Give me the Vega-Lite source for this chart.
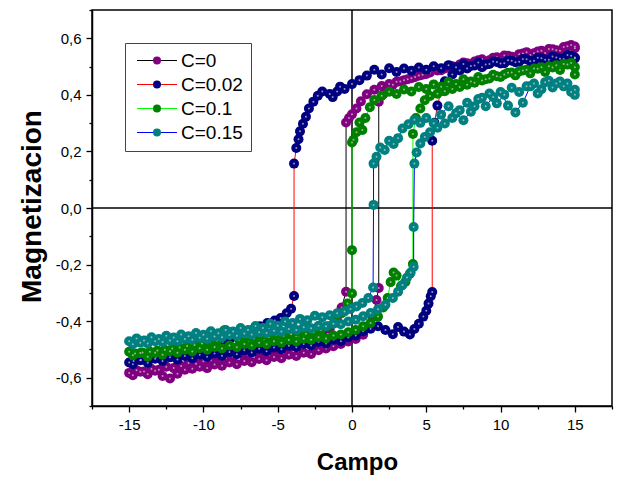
{
"$schema":"https://vega.github.io/schema/vega-lite/v6.json",
"width":520,"height":396,
"autosize":{"type":"none"},
"padding":{"left":92,"top":10,"right":13,"bottom":71},
"background":"white",
"config":{
 "view":{"stroke":"black","strokeWidth":1.5},
 "axis":{"grid":false,"domainColor":"black","domainWidth":1.5,"tickColor":"black","tickWidth":1.3,"labelFont":"Liberation Sans","labelFontSize":15,"labelColor":"black","titleFont":"Liberation Sans","titleFontWeight":"bold","titleColor":"black","labelOverlap":false,"labelFlush":false},
 "legend":{"labelFont":"Liberation Sans","labelColor":"black"}
},
"resolve":{"axis":{"x":"independent","y":"independent"}},
"datasets":{"d":[
{"s":"C=0","x":15,"y":0.565},{"s":"C=0","x":14.5,"y":0.572},{"s":"C=0","x":14,"y":0.556},{"s":"C=0","x":13.5,"y":0.561},{"s":"C=0","x":13,"y":0.548},{"s":"C=0","x":12.5,"y":0.553},{"s":"C=0","x":12,"y":0.541},{"s":"C=0","x":11.5,"y":0.546},{"s":"C=0","x":11,"y":0.532},{"s":"C=0","x":10.5,"y":0.538},{"s":"C=0","x":10,"y":0.524},{"s":"C=0","x":9.5,"y":0.531},{"s":"C=0","x":9,"y":0.517},{"s":"C=0","x":8.5,"y":0.522},{"s":"C=0","x":8,"y":0.508},{"s":"C=0","x":7.5,"y":0.514},{"s":"C=0","x":7,"y":0.498},{"s":"C=0","x":6.5,"y":0.503},{"s":"C=0","x":6,"y":0.487},{"s":"C=0","x":5.5,"y":0.491},{"s":"C=0","x":5,"y":0.474},{"s":"C=0","x":4.5,"y":0.468},{"s":"C=0","x":4,"y":0.459},{"s":"C=0","x":3.5,"y":0.452},{"s":"C=0","x":3,"y":0.446},{"s":"C=0","x":2.5,"y":0.438},{"s":"C=0","x":2,"y":0.431},{"s":"C=0","x":1.5,"y":0.418},{"s":"C=0","x":1,"y":0.402},{"s":"C=0","x":0.6,"y":0.377},{"s":"C=0","x":0.3,"y":0.352},{"s":"C=0","x":0,"y":0.331},{"s":"C=0","x":-0.2,"y":0.318},{"s":"C=0","x":-0.4,"y":0.302},{"s":"C=0","x":-0.4,"y":-0.296},{"s":"C=0","x":-0.7,"y":-0.352},{"s":"C=0","x":-1,"y":-0.398},{"s":"C=0","x":-1.5,"y":-0.428},{"s":"C=0","x":-2,"y":-0.447},{"s":"C=0","x":-2.5,"y":-0.461},{"s":"C=0","x":-3,"y":-0.472},{"s":"C=0","x":-3.5,"y":-0.478},{"s":"C=0","x":-4,"y":-0.489},{"s":"C=0","x":-4.5,"y":-0.494},{"s":"C=0","x":-5,"y":-0.502},{"s":"C=0","x":-5.5,"y":-0.498},{"s":"C=0","x":-6,"y":-0.511},{"s":"C=0","x":-6.5,"y":-0.507},{"s":"C=0","x":-7,"y":-0.519},{"s":"C=0","x":-7.5,"y":-0.514},{"s":"C=0","x":-8,"y":-0.526},{"s":"C=0","x":-8.5,"y":-0.531},{"s":"C=0","x":-9,"y":-0.527},{"s":"C=0","x":-9.5,"y":-0.538},{"s":"C=0","x":-10,"y":-0.542},{"s":"C=0","x":-10.5,"y":-0.551},{"s":"C=0","x":-11,"y":-0.548},{"s":"C=0","x":-11.5,"y":-0.559},{"s":"C=0","x":-12,"y":-0.566},{"s":"C=0","x":-12.5,"y":-0.561},{"s":"C=0","x":-13,"y":-0.572},{"s":"C=0","x":-13.5,"y":-0.569},{"s":"C=0","x":-14,"y":-0.578},{"s":"C=0","x":-14.5,"y":-0.574},{"s":"C=0","x":-15,"y":-0.583},
{"s":"C=0","x":-14.75,"y":-0.591},{"s":"C=0","x":-14.25,"y":-0.579},{"s":"C=0","x":-13.75,"y":-0.588},{"s":"C=0","x":-13.25,"y":-0.575},{"s":"C=0","x":-12.75,"y":-0.594},{"s":"C=0","x":-12.25,"y":-0.603},{"s":"C=0","x":-11.75,"y":-0.586},{"s":"C=0","x":-11.25,"y":-0.572},{"s":"C=0","x":-10.75,"y":-0.568},{"s":"C=0","x":-10.25,"y":-0.561},{"s":"C=0","x":-9.75,"y":-0.566},{"s":"C=0","x":-9.25,"y":-0.553},{"s":"C=0","x":-8.75,"y":-0.558},{"s":"C=0","x":-8.25,"y":-0.546},{"s":"C=0","x":-7.75,"y":-0.552},{"s":"C=0","x":-7.25,"y":-0.541},{"s":"C=0","x":-6.75,"y":-0.545},{"s":"C=0","x":-6.25,"y":-0.534},{"s":"C=0","x":-5.75,"y":-0.538},{"s":"C=0","x":-5.25,"y":-0.527},{"s":"C=0","x":-4.75,"y":-0.531},{"s":"C=0","x":-4.25,"y":-0.519},{"s":"C=0","x":-3.75,"y":-0.523},{"s":"C=0","x":-3.25,"y":-0.512},{"s":"C=0","x":-2.75,"y":-0.516},{"s":"C=0","x":-2.25,"y":-0.503},{"s":"C=0","x":-1.75,"y":-0.497},{"s":"C=0","x":-1.25,"y":-0.489},{"s":"C=0","x":-0.75,"y":-0.481},{"s":"C=0","x":-0.25,"y":-0.472},{"s":"C=0","x":0.25,"y":-0.463},{"s":"C=0","x":0.75,"y":-0.448},{"s":"C=0","x":1.1,"y":-0.421},{"s":"C=0","x":1.4,"y":-0.384},{"s":"C=0","x":1.65,"y":-0.325},{"s":"C=0","x":1.8,"y":-0.283},{"s":"C=0","x":1.8,"y":0.376},{"s":"C=0","x":2.1,"y":0.402},{"s":"C=0","x":2.5,"y":0.421},{"s":"C=0","x":2.75,"y":0.436},{"s":"C=0","x":3.25,"y":0.447},{"s":"C=0","x":3.75,"y":0.455},{"s":"C=0","x":4.25,"y":0.463},{"s":"C=0","x":4.75,"y":0.471},{"s":"C=0","x":5.25,"y":0.479},{"s":"C=0","x":5.75,"y":0.486},{"s":"C=0","x":6.25,"y":0.493},{"s":"C=0","x":6.75,"y":0.501},{"s":"C=0","x":7.25,"y":0.507},{"s":"C=0","x":7.75,"y":0.512},{"s":"C=0","x":8.25,"y":0.518},{"s":"C=0","x":8.75,"y":0.526},{"s":"C=0","x":9.25,"y":0.522},{"s":"C=0","x":9.75,"y":0.533},{"s":"C=0","x":10.25,"y":0.539},{"s":"C=0","x":10.75,"y":0.535},{"s":"C=0","x":11.25,"y":0.544},{"s":"C=0","x":11.75,"y":0.551},{"s":"C=0","x":12.25,"y":0.547},{"s":"C=0","x":12.75,"y":0.556},{"s":"C=0","x":13.25,"y":0.562},{"s":"C=0","x":13.75,"y":0.558},{"s":"C=0","x":14.25,"y":0.569},{"s":"C=0","x":14.75,"y":0.576},{"s":"C=0","x":15,"y":0.571},
{"s":"C=0.02","x":15,"y":0.532},{"s":"C=0.02","x":14.5,"y":0.541},{"s":"C=0.02","x":14,"y":0.528},{"s":"C=0.02","x":13.5,"y":0.536},{"s":"C=0.02","x":13,"y":0.524},{"s":"C=0.02","x":12.5,"y":0.531},{"s":"C=0.02","x":12,"y":0.519},{"s":"C=0.02","x":11.5,"y":0.527},{"s":"C=0.02","x":11,"y":0.515},{"s":"C=0.02","x":10.5,"y":0.522},{"s":"C=0.02","x":10,"y":0.511},{"s":"C=0.02","x":9.5,"y":0.518},{"s":"C=0.02","x":9,"y":0.507},{"s":"C=0.02","x":8.5,"y":0.514},{"s":"C=0.02","x":8,"y":0.502},{"s":"C=0.02","x":7.5,"y":0.509},{"s":"C=0.02","x":7,"y":0.498},{"s":"C=0.02","x":6.5,"y":0.505},{"s":"C=0.02","x":6,"y":0.494},{"s":"C=0.02","x":5.5,"y":0.501},{"s":"C=0.02","x":5,"y":0.489},{"s":"C=0.02","x":4.5,"y":0.497},{"s":"C=0.02","x":4,"y":0.485},{"s":"C=0.02","x":3.5,"y":0.493},{"s":"C=0.02","x":3,"y":0.481},{"s":"C=0.02","x":2.5,"y":0.494},{"s":"C=0.02","x":2,"y":0.472},{"s":"C=0.02","x":1.5,"y":0.489},{"s":"C=0.02","x":1,"y":0.468},{"s":"C=0.02","x":0.5,"y":0.452},{"s":"C=0.02","x":0,"y":0.438},{"s":"C=0.02","x":-0.5,"y":0.421},{"s":"C=0.02","x":-0.8,"y":0.429},{"s":"C=0.02","x":-1,"y":0.412},{"s":"C=0.02","x":-1.3,"y":0.392},{"s":"C=0.02","x":-1.5,"y":0.403},{"s":"C=0.02","x":-2,"y":0.412},{"s":"C=0.02","x":-2.3,"y":0.397},{"s":"C=0.02","x":-2.6,"y":0.376},{"s":"C=0.02","x":-2.9,"y":0.352},{"s":"C=0.02","x":-3.1,"y":0.323},{"s":"C=0.02","x":-3.3,"y":0.298},{"s":"C=0.02","x":-3.5,"y":0.271},{"s":"C=0.02","x":-3.6,"y":0.243},{"s":"C=0.02","x":-3.75,"y":0.212},{"s":"C=0.02","x":-3.9,"y":0.157},{"s":"C=0.02","x":-3.9,"y":-0.311},{"s":"C=0.02","x":-4.1,"y":-0.356},{"s":"C=0.02","x":-4.4,"y":-0.372},{"s":"C=0.02","x":-4.8,"y":-0.389},{"s":"C=0.02","x":-5.2,"y":-0.398},{"s":"C=0.02","x":-5.7,"y":-0.407},{"s":"C=0.02","x":-6.2,"y":-0.418},{"s":"C=0.02","x":-6.7,"y":-0.431},{"s":"C=0.02","x":-7.2,"y":-0.442},{"s":"C=0.02","x":-7.7,"y":-0.451},{"s":"C=0.02","x":-8.2,"y":-0.462},{"s":"C=0.02","x":-8.7,"y":-0.473},{"s":"C=0.02","x":-9.2,"y":-0.479},{"s":"C=0.02","x":-9.7,"y":-0.488},{"s":"C=0.02","x":-10.2,"y":-0.496},{"s":"C=0.02","x":-10.7,"y":-0.502},{"s":"C=0.02","x":-11.2,"y":-0.509},{"s":"C=0.02","x":-11.7,"y":-0.514},{"s":"C=0.02","x":-12.2,"y":-0.519},{"s":"C=0.02","x":-12.7,"y":-0.523},{"s":"C=0.02","x":-13.2,"y":-0.528},{"s":"C=0.02","x":-13.7,"y":-0.533},{"s":"C=0.02","x":-14.2,"y":-0.537},{"s":"C=0.02","x":-14.7,"y":-0.541},{"s":"C=0.02","x":-15,"y":-0.546},
{"s":"C=0.02","x":-14.75,"y":-0.552},{"s":"C=0.02","x":-14.25,"y":-0.538},{"s":"C=0.02","x":-13.75,"y":-0.547},{"s":"C=0.02","x":-13.25,"y":-0.533},{"s":"C=0.02","x":-12.75,"y":-0.541},{"s":"C=0.02","x":-12.25,"y":-0.528},{"s":"C=0.02","x":-11.75,"y":-0.536},{"s":"C=0.02","x":-11.25,"y":-0.523},{"s":"C=0.02","x":-10.75,"y":-0.531},{"s":"C=0.02","x":-10.25,"y":-0.519},{"s":"C=0.02","x":-9.75,"y":-0.526},{"s":"C=0.02","x":-9.25,"y":-0.514},{"s":"C=0.02","x":-8.75,"y":-0.522},{"s":"C=0.02","x":-8.25,"y":-0.509},{"s":"C=0.02","x":-7.75,"y":-0.517},{"s":"C=0.02","x":-7.25,"y":-0.503},{"s":"C=0.02","x":-6.75,"y":-0.511},{"s":"C=0.02","x":-6.25,"y":-0.498},{"s":"C=0.02","x":-5.75,"y":-0.506},{"s":"C=0.02","x":-5.25,"y":-0.493},{"s":"C=0.02","x":-4.75,"y":-0.499},{"s":"C=0.02","x":-4.25,"y":-0.487},{"s":"C=0.02","x":-3.75,"y":-0.492},{"s":"C=0.02","x":-3.25,"y":-0.481},{"s":"C=0.02","x":-2.75,"y":-0.486},{"s":"C=0.02","x":-2.25,"y":-0.474},{"s":"C=0.02","x":-1.75,"y":-0.479},{"s":"C=0.02","x":-1.25,"y":-0.466},{"s":"C=0.02","x":-0.75,"y":-0.471},{"s":"C=0.02","x":-0.25,"y":-0.458},{"s":"C=0.02","x":0.25,"y":-0.451},{"s":"C=0.02","x":0.75,"y":-0.436},{"s":"C=0.02","x":1.25,"y":-0.427},{"s":"C=0.02","x":1.75,"y":-0.418},{"s":"C=0.02","x":2.25,"y":-0.431},{"s":"C=0.02","x":2.75,"y":-0.446},{"s":"C=0.02","x":3.1,"y":-0.421},{"s":"C=0.02","x":3.5,"y":-0.437},{"s":"C=0.02","x":3.9,"y":-0.447},{"s":"C=0.02","x":4.2,"y":-0.428},{"s":"C=0.02","x":4.5,"y":-0.409},{"s":"C=0.02","x":4.8,"y":-0.384},{"s":"C=0.02","x":5,"y":-0.363},{"s":"C=0.02","x":5.15,"y":-0.338},{"s":"C=0.02","x":5.3,"y":-0.312},{"s":"C=0.02","x":5.4,"y":-0.297},{"s":"C=0.02","x":5.4,"y":0.238},{"s":"C=0.02","x":5.55,"y":0.301},{"s":"C=0.02","x":5.75,"y":0.362},{"s":"C=0.02","x":6,"y":0.414},{"s":"C=0.02","x":6.25,"y":0.448},{"s":"C=0.02","x":6.75,"y":0.472},{"s":"C=0.02","x":7.25,"y":0.486},{"s":"C=0.02","x":7.75,"y":0.493},{"s":"C=0.02","x":8.25,"y":0.504},{"s":"C=0.02","x":8.75,"y":0.498},{"s":"C=0.02","x":9.25,"y":0.509},{"s":"C=0.02","x":9.75,"y":0.516},{"s":"C=0.02","x":10.25,"y":0.512},{"s":"C=0.02","x":10.75,"y":0.521},{"s":"C=0.02","x":11.25,"y":0.517},{"s":"C=0.02","x":11.75,"y":0.526},{"s":"C=0.02","x":12.25,"y":0.521},{"s":"C=0.02","x":12.75,"y":0.529},{"s":"C=0.02","x":13.25,"y":0.524},{"s":"C=0.02","x":13.75,"y":0.532},{"s":"C=0.02","x":14.25,"y":0.527},{"s":"C=0.02","x":14.75,"y":0.538},{"s":"C=0.02","x":15,"y":0.529},
{"s":"C=0.1","x":15,"y":0.498},{"s":"C=0.1","x":14.5,"y":0.507},{"s":"C=0.1","x":14,"y":0.488},{"s":"C=0.1","x":13.5,"y":0.497},{"s":"C=0.1","x":13,"y":0.481},{"s":"C=0.1","x":12.5,"y":0.492},{"s":"C=0.1","x":12,"y":0.476},{"s":"C=0.1","x":11.5,"y":0.486},{"s":"C=0.1","x":11,"y":0.469},{"s":"C=0.1","x":10.5,"y":0.478},{"s":"C=0.1","x":10,"y":0.463},{"s":"C=0.1","x":9.5,"y":0.471},{"s":"C=0.1","x":9,"y":0.455},{"s":"C=0.1","x":8.5,"y":0.463},{"s":"C=0.1","x":8,"y":0.447},{"s":"C=0.1","x":7.5,"y":0.455},{"s":"C=0.1","x":7,"y":0.438},{"s":"C=0.1","x":6.5,"y":0.446},{"s":"C=0.1","x":6,"y":0.429},{"s":"C=0.1","x":5.5,"y":0.437},{"s":"C=0.1","x":5,"y":0.421},{"s":"C=0.1","x":4.5,"y":0.428},{"s":"C=0.1","x":4,"y":0.412},{"s":"C=0.1","x":3.5,"y":0.419},{"s":"C=0.1","x":3,"y":0.403},{"s":"C=0.1","x":2.5,"y":0.411},{"s":"C=0.1","x":2,"y":0.397},{"s":"C=0.1","x":1.5,"y":0.382},{"s":"C=0.1","x":1.2,"y":0.356},{"s":"C=0.1","x":0.9,"y":0.318},{"s":"C=0.1","x":0.7,"y":0.276},{"s":"C=0.1","x":0.5,"y":0.302},{"s":"C=0.1","x":0.3,"y":0.268},{"s":"C=0.1","x":0.1,"y":0.241},{"s":"C=0.1","x":0,"y":0.232},{"s":"C=0.1","x":0,"y":-0.149},{"s":"C=0.1","x":0,"y":-0.302},{"s":"C=0.1","x":-0.3,"y":-0.338},{"s":"C=0.1","x":-0.7,"y":-0.372},{"s":"C=0.1","x":-1.1,"y":-0.398},{"s":"C=0.1","x":-1.6,"y":-0.418},{"s":"C=0.1","x":-2.1,"y":-0.431},{"s":"C=0.1","x":-2.6,"y":-0.439},{"s":"C=0.1","x":-3.1,"y":-0.445},{"s":"C=0.1","x":-3.6,"y":-0.438},{"s":"C=0.1","x":-4.1,"y":-0.446},{"s":"C=0.1","x":-4.6,"y":-0.452},{"s":"C=0.1","x":-5.1,"y":-0.447},{"s":"C=0.1","x":-5.6,"y":-0.456},{"s":"C=0.1","x":-6.1,"y":-0.451},{"s":"C=0.1","x":-6.6,"y":-0.461},{"s":"C=0.1","x":-7.1,"y":-0.456},{"s":"C=0.1","x":-7.6,"y":-0.466},{"s":"C=0.1","x":-8.1,"y":-0.438},{"s":"C=0.1","x":-8.6,"y":-0.432},{"s":"C=0.1","x":-9.1,"y":-0.468},{"s":"C=0.1","x":-9.6,"y":-0.474},{"s":"C=0.1","x":-10.1,"y":-0.479},{"s":"C=0.1","x":-10.6,"y":-0.484},{"s":"C=0.1","x":-11.1,"y":-0.488},{"s":"C=0.1","x":-11.6,"y":-0.493},{"s":"C=0.1","x":-12.1,"y":-0.497},{"s":"C=0.1","x":-12.6,"y":-0.501},{"s":"C=0.1","x":-13.1,"y":-0.504},{"s":"C=0.1","x":-13.6,"y":-0.508},{"s":"C=0.1","x":-14.1,"y":-0.511},{"s":"C=0.1","x":-14.6,"y":-0.514},{"s":"C=0.1","x":-15,"y":-0.508},
{"s":"C=0.1","x":-14.75,"y":-0.521},{"s":"C=0.1","x":-14.25,"y":-0.513},{"s":"C=0.1","x":-13.75,"y":-0.526},{"s":"C=0.1","x":-13.25,"y":-0.512},{"s":"C=0.1","x":-12.75,"y":-0.519},{"s":"C=0.1","x":-12.25,"y":-0.506},{"s":"C=0.1","x":-11.75,"y":-0.512},{"s":"C=0.1","x":-11.25,"y":-0.501},{"s":"C=0.1","x":-10.75,"y":-0.507},{"s":"C=0.1","x":-10.25,"y":-0.496},{"s":"C=0.1","x":-9.75,"y":-0.501},{"s":"C=0.1","x":-9.25,"y":-0.491},{"s":"C=0.1","x":-8.75,"y":-0.497},{"s":"C=0.1","x":-8.25,"y":-0.486},{"s":"C=0.1","x":-7.75,"y":-0.492},{"s":"C=0.1","x":-7.25,"y":-0.481},{"s":"C=0.1","x":-6.75,"y":-0.486},{"s":"C=0.1","x":-6.25,"y":-0.476},{"s":"C=0.1","x":-5.75,"y":-0.482},{"s":"C=0.1","x":-5.25,"y":-0.471},{"s":"C=0.1","x":-4.75,"y":-0.476},{"s":"C=0.1","x":-4.25,"y":-0.467},{"s":"C=0.1","x":-3.75,"y":-0.472},{"s":"C=0.1","x":-3.25,"y":-0.462},{"s":"C=0.1","x":-2.75,"y":-0.466},{"s":"C=0.1","x":-2.25,"y":-0.457},{"s":"C=0.1","x":-1.75,"y":-0.461},{"s":"C=0.1","x":-1.25,"y":-0.451},{"s":"C=0.1","x":-0.75,"y":-0.447},{"s":"C=0.1","x":-0.25,"y":-0.439},{"s":"C=0.1","x":0.25,"y":-0.431},{"s":"C=0.1","x":0.75,"y":-0.418},{"s":"C=0.1","x":1.25,"y":-0.407},{"s":"C=0.1","x":1.75,"y":-0.384},{"s":"C=0.1","x":2.1,"y":-0.352},{"s":"C=0.1","x":2.4,"y":-0.318},{"s":"C=0.1","x":2.6,"y":-0.262},{"s":"C=0.1","x":2.8,"y":-0.228},{"s":"C=0.1","x":3,"y":-0.239},{"s":"C=0.1","x":3.3,"y":-0.276},{"s":"C=0.1","x":3.6,"y":-0.261},{"s":"C=0.1","x":3.9,"y":-0.232},{"s":"C=0.1","x":4.1,"y":-0.198},{"s":"C=0.1","x":4.1,"y":0.262},{"s":"C=0.1","x":4.3,"y":0.318},{"s":"C=0.1","x":4.6,"y":0.352},{"s":"C=0.1","x":4.9,"y":0.381},{"s":"C=0.1","x":5.25,"y":0.396},{"s":"C=0.1","x":5.75,"y":0.404},{"s":"C=0.1","x":6.25,"y":0.413},{"s":"C=0.1","x":6.75,"y":0.421},{"s":"C=0.1","x":7.25,"y":0.428},{"s":"C=0.1","x":7.75,"y":0.436},{"s":"C=0.1","x":8.25,"y":0.443},{"s":"C=0.1","x":8.75,"y":0.451},{"s":"C=0.1","x":9.25,"y":0.458},{"s":"C=0.1","x":9.75,"y":0.466},{"s":"C=0.1","x":10.25,"y":0.472},{"s":"C=0.1","x":10.75,"y":0.479},{"s":"C=0.1","x":11.25,"y":0.483},{"s":"C=0.1","x":11.75,"y":0.489},{"s":"C=0.1","x":12.25,"y":0.493},{"s":"C=0.1","x":12.75,"y":0.498},{"s":"C=0.1","x":13.25,"y":0.501},{"s":"C=0.1","x":13.75,"y":0.505},{"s":"C=0.1","x":14.25,"y":0.509},{"s":"C=0.1","x":14.75,"y":0.513},{"s":"C=0.1","x":15,"y":0.472},
{"s":"C=0.15","x":15,"y":0.418},{"s":"C=0.15","x":14.5,"y":0.44},{"s":"C=0.15","x":14,"y":0.447},{"s":"C=0.15","x":13.5,"y":0.426},{"s":"C=0.15","x":13,"y":0.445},{"s":"C=0.15","x":12.5,"y":0.405},{"s":"C=0.15","x":12,"y":0.43},{"s":"C=0.15","x":11.5,"y":0.372},{"s":"C=0.15","x":11,"y":0.338},{"s":"C=0.15","x":10.5,"y":0.362},{"s":"C=0.15","x":10,"y":0.41},{"s":"C=0.15","x":9.5,"y":0.392},{"s":"C=0.15","x":9,"y":0.36},{"s":"C=0.15","x":8.5,"y":0.385},{"s":"C=0.15","x":8,"y":0.34},{"s":"C=0.15","x":7.5,"y":0.31},{"s":"C=0.15","x":7,"y":0.335},{"s":"C=0.15","x":6.5,"y":0.36},{"s":"C=0.15","x":6,"y":0.33},{"s":"C=0.15","x":5.5,"y":0.3},{"s":"C=0.15","x":5,"y":0.318},{"s":"C=0.15","x":4.6,"y":0.301},{"s":"C=0.15","x":4.2,"y":0.312},{"s":"C=0.15","x":3.8,"y":0.296},{"s":"C=0.15","x":3.4,"y":0.281},{"s":"C=0.15","x":3.1,"y":0.247},{"s":"C=0.15","x":2.8,"y":0.226},{"s":"C=0.15","x":2.5,"y":0.238},{"s":"C=0.15","x":2.2,"y":0.205},{"s":"C=0.15","x":1.9,"y":0.214},{"s":"C=0.15","x":1.65,"y":0.181},{"s":"C=0.15","x":1.45,"y":0.157},{"s":"C=0.15","x":1.45,"y":0.011},{"s":"C=0.15","x":1.42,"y":-0.281},{"s":"C=0.15","x":1.1,"y":-0.318},{"s":"C=0.15","x":0.7,"y":-0.336},{"s":"C=0.15","x":0.3,"y":-0.348},{"s":"C=0.15","x":-0.1,"y":-0.357},{"s":"C=0.15","x":-0.5,"y":-0.366},{"s":"C=0.15","x":-1,"y":-0.372},{"s":"C=0.15","x":-1.5,"y":-0.379},{"s":"C=0.15","x":-2,"y":-0.386},{"s":"C=0.15","x":-2.5,"y":-0.381},{"s":"C=0.15","x":-3,"y":-0.397},{"s":"C=0.15","x":-3.5,"y":-0.392},{"s":"C=0.15","x":-4,"y":-0.407},{"s":"C=0.15","x":-4.5,"y":-0.401},{"s":"C=0.15","x":-5,"y":-0.416},{"s":"C=0.15","x":-5.5,"y":-0.409},{"s":"C=0.15","x":-6,"y":-0.424},{"s":"C=0.15","x":-6.5,"y":-0.417},{"s":"C=0.15","x":-7,"y":-0.431},{"s":"C=0.15","x":-7.5,"y":-0.424},{"s":"C=0.15","x":-8,"y":-0.437},{"s":"C=0.15","x":-8.5,"y":-0.431},{"s":"C=0.15","x":-9,"y":-0.443},{"s":"C=0.15","x":-9.5,"y":-0.436},{"s":"C=0.15","x":-10,"y":-0.448},{"s":"C=0.15","x":-10.5,"y":-0.442},{"s":"C=0.15","x":-11,"y":-0.453},{"s":"C=0.15","x":-11.5,"y":-0.447},{"s":"C=0.15","x":-12,"y":-0.458},{"s":"C=0.15","x":-12.5,"y":-0.452},{"s":"C=0.15","x":-13,"y":-0.463},{"s":"C=0.15","x":-13.5,"y":-0.457},{"s":"C=0.15","x":-14,"y":-0.468},{"s":"C=0.15","x":-14.5,"y":-0.461},{"s":"C=0.15","x":-15,"y":-0.471},
{"s":"C=0.15","x":-14.75,"y":-0.482},{"s":"C=0.15","x":-14.25,"y":-0.476},{"s":"C=0.15","x":-13.75,"y":-0.479},{"s":"C=0.15","x":-13.25,"y":-0.471},{"s":"C=0.15","x":-12.75,"y":-0.474},{"s":"C=0.15","x":-12.25,"y":-0.468},{"s":"C=0.15","x":-11.75,"y":-0.471},{"s":"C=0.15","x":-11.25,"y":-0.463},{"s":"C=0.15","x":-10.75,"y":-0.466},{"s":"C=0.15","x":-10.25,"y":-0.459},{"s":"C=0.15","x":-9.75,"y":-0.462},{"s":"C=0.15","x":-9.25,"y":-0.454},{"s":"C=0.15","x":-8.75,"y":-0.457},{"s":"C=0.15","x":-8.25,"y":-0.449},{"s":"C=0.15","x":-7.75,"y":-0.452},{"s":"C=0.15","x":-7.25,"y":-0.444},{"s":"C=0.15","x":-6.75,"y":-0.447},{"s":"C=0.15","x":-6.25,"y":-0.439},{"s":"C=0.15","x":-5.75,"y":-0.442},{"s":"C=0.15","x":-5.25,"y":-0.434},{"s":"C=0.15","x":-4.75,"y":-0.437},{"s":"C=0.15","x":-4.25,"y":-0.428},{"s":"C=0.15","x":-3.75,"y":-0.431},{"s":"C=0.15","x":-3.25,"y":-0.422},{"s":"C=0.15","x":-2.75,"y":-0.425},{"s":"C=0.15","x":-2.25,"y":-0.416},{"s":"C=0.15","x":-1.75,"y":-0.418},{"s":"C=0.15","x":-1.25,"y":-0.409},{"s":"C=0.15","x":-0.75,"y":-0.411},{"s":"C=0.15","x":-0.25,"y":-0.401},{"s":"C=0.15","x":0.25,"y":-0.395},{"s":"C=0.15","x":0.75,"y":-0.383},{"s":"C=0.15","x":1.25,"y":-0.371},{"s":"C=0.15","x":1.75,"y":-0.358},{"s":"C=0.15","x":2.25,"y":-0.342},{"s":"C=0.15","x":2.75,"y":-0.318},{"s":"C=0.15","x":3.1,"y":-0.296},{"s":"C=0.15","x":3.4,"y":-0.272},{"s":"C=0.15","x":3.7,"y":-0.246},{"s":"C=0.15","x":3.95,"y":-0.228},{"s":"C=0.15","x":4.15,"y":-0.208},{"s":"C=0.15","x":4.15,"y":-0.067},{"s":"C=0.15","x":4.2,"y":0.157},{"s":"C=0.15","x":4.35,"y":0.196},{"s":"C=0.15","x":4.6,"y":0.228},{"s":"C=0.15","x":4.9,"y":0.251},{"s":"C=0.15","x":5.25,"y":0.268},{"s":"C=0.15","x":5.75,"y":0.284},{"s":"C=0.15","x":6.25,"y":0.299},{"s":"C=0.15","x":6.75,"y":0.318},{"s":"C=0.15","x":7.25,"y":0.346},{"s":"C=0.15","x":7.75,"y":0.372},{"s":"C=0.15","x":8.25,"y":0.36},{"s":"C=0.15","x":8.75,"y":0.39},{"s":"C=0.15","x":9.25,"y":0.405},{"s":"C=0.15","x":9.75,"y":0.37},{"s":"C=0.15","x":10.25,"y":0.4},{"s":"C=0.15","x":10.75,"y":0.425},{"s":"C=0.15","x":11.25,"y":0.41},{"s":"C=0.15","x":11.75,"y":0.43},{"s":"C=0.15","x":12.25,"y":0.44},{"s":"C=0.15","x":12.75,"y":0.42},{"s":"C=0.15","x":13.25,"y":0.45},{"s":"C=0.15","x":13.75,"y":0.44},{"s":"C=0.15","x":14.25,"y":0.43},{"s":"C=0.15","x":14.75,"y":0.41},{"s":"C=0.15","x":15,"y":0.4}
]},
"data":{"name":"d"},
"layer":[
 {"data":{"values":[{}]},"mark":{"type":"rule","color":"black","strokeWidth":1.5},"encoding":{"x":{"datum":0,"type":"quantitative","scale":{"domain":[-17.5,17.5],"nice":false,"zero":false},"axis":{"orient":"bottom","values":[-17.5,-12.5,-7.5,-2.5,2.5,7.5,12.5,17.5],"tickSize":3,"labels":false,"title":null,"domain":false}}}},
 {"data":{"values":[{}]},"mark":{"type":"rule","color":"black","strokeWidth":1.5},"encoding":{"y":{"datum":0,"type":"quantitative","scale":{"domain":[-0.7,0.7],"nice":false,"zero":false},"axis":{"orient":"left","values":[-0.7,-0.5,-0.3,-0.1,0.1,0.3,0.5,0.7],"tickSize":3,"labels":false,"title":null,"domain":false}}}},
 {"mark":{"type":"line","strokeWidth":1},
  "encoding":{
   "x":{"field":"x","type":"quantitative","scale":{"domain":[-17.5,17.5],"nice":false,"zero":false},
     "axis":{"orient":"bottom","title":"Campo","values":[-15,-10,-5,0,5,10,15],"tickSize":6,
       "labelExpr":"(datum.value < 0 ? '-' : '') + abs(datum.value)",
       "labelPadding":5,"titleFontSize":24,"titleBaseline":"alphabetic","titleY":63,"titleX":265}},
   "y":{"field":"y","type":"quantitative","scale":{"domain":[-0.7,0.7],"nice":false,"zero":false},
     "axis":{"orient":"left","title":"Magnetizacion","values":[-0.6,-0.4,-0.2,0,0.2,0.4,0.6],"tickSize":6,
       "labelExpr":"(datum.value < -0.001 ? '-' : '') + replace(format(abs(datum.value), '.1f'), '.', ',')",
       "labelPadding":5,"titleFontSize":28,"titleBaseline":"alphabetic","titleX":-52,"titleY":196,"titleAlign":"center"}},
   "stroke":{"field":"s","type":"nominal","scale":{"domain":["C=0","C=0.02","C=0.1","C=0.15"],"range":["#000000","#ff0000","#00ff00","#0000ff"]},
     "legend":{"orient":"top-left","offset":33,"title":null,"symbolType":"M-5,0H-1M1,0H5","symbolSize":64,"symbolStrokeWidth":1,"symbolOffset":14.5,"labelOffset":14.5,"labelFontSize":19,"labelOpacity":0,"rowPadding":4,"padding":8}},
   "order":{"value":null}
  }},
 {"transform":[{"filter":"datum.s=='C=0'"}],"mark":{"type":"point","filled":true,"size":100,"strokeWidth":0,"opacity":1},
  "encoding":{"x":{"field":"x","type":"quantitative","axis":null},"y":{"field":"y","type":"quantitative","axis":null},
   "fill":{"field":"s","type":"nominal","scale":{"domain":["C=0","C=0.02","C=0.1","C=0.15"],"range":["#800080","#000080","#008000","#008080"]},
     "legend":{"orient":"none","legendX":33,"legendY":33,"title":null,"symbolType":"circle","symbolSize":64,"symbolOffset":14.5,"labelOffset":14.5,"labelFontSize":19,"rowPadding":4,"padding":8,"strokeColor":"#444444"}}}},
 {"transform":[{"filter":"datum.s=='C=0'"}],"mark":{"type":"point","filled":true,"size":4,"color":"#d2d2d2","strokeWidth":0},
  "encoding":{"x":{"field":"x","type":"quantitative","axis":null},"y":{"field":"y","type":"quantitative","axis":null}}},
 {"transform":[{"filter":"datum.s=='C=0.02'"}],"mark":{"type":"point","filled":true,"size":100,"strokeWidth":0,"opacity":1},
  "encoding":{"x":{"field":"x","type":"quantitative","axis":null},"y":{"field":"y","type":"quantitative","axis":null},
   "fill":{"field":"s","type":"nominal"}}},
 {"transform":[{"filter":"datum.s=='C=0.02'"}],"mark":{"type":"point","filled":true,"size":4,"color":"#d2d2d2","strokeWidth":0},
  "encoding":{"x":{"field":"x","type":"quantitative","axis":null},"y":{"field":"y","type":"quantitative","axis":null}}},
 {"transform":[{"filter":"datum.s=='C=0.1'"}],"mark":{"type":"point","filled":true,"size":100,"strokeWidth":0,"opacity":1},
  "encoding":{"x":{"field":"x","type":"quantitative","axis":null},"y":{"field":"y","type":"quantitative","axis":null},
   "fill":{"field":"s","type":"nominal"}}},
 {"transform":[{"filter":"datum.s=='C=0.1'"}],"mark":{"type":"point","filled":true,"size":4,"color":"#d2d2d2","strokeWidth":0},
  "encoding":{"x":{"field":"x","type":"quantitative","axis":null},"y":{"field":"y","type":"quantitative","axis":null}}},
 {"transform":[{"filter":"datum.s=='C=0.15'"}],"mark":{"type":"point","filled":true,"size":100,"strokeWidth":0,"opacity":1},
  "encoding":{"x":{"field":"x","type":"quantitative","axis":null},"y":{"field":"y","type":"quantitative","axis":null},
   "fill":{"field":"s","type":"nominal"}}},
 {"transform":[{"filter":"datum.s=='C=0.15'"}],"mark":{"type":"point","filled":true,"size":4,"color":"#d2d2d2","strokeWidth":0},
  "encoding":{"x":{"field":"x","type":"quantitative","axis":null},"y":{"field":"y","type":"quantitative","axis":null}}}
]
}
